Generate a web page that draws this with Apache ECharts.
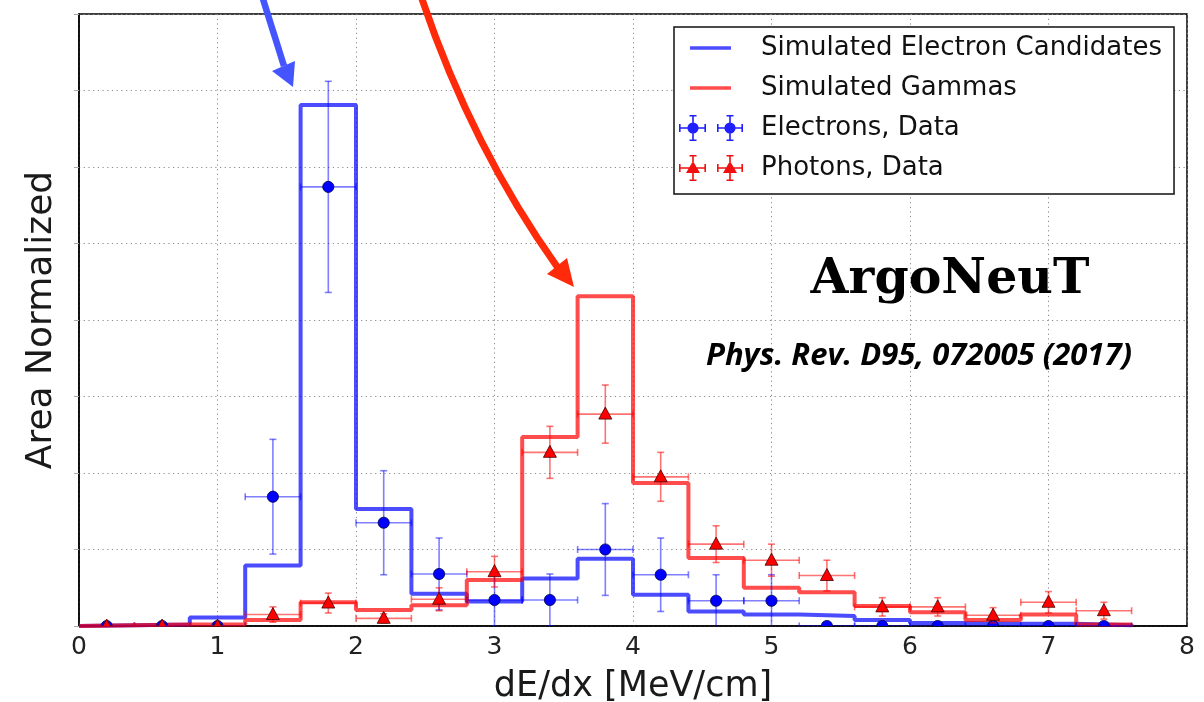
<!DOCTYPE html>
<html><head><meta charset="utf-8">
<script src="https://cdn.jsdelivr.net/npm/echarts@6/dist/echarts.min.js"></script>
<style>html,body{margin:0;padding:0;background:#fff}#c{width:1204px;height:702px}</style>
</head><body><div id="c"></div>
<script>
// ---- data ----
const binEdges = [0.0, 0.4, 0.8, 1.2, 1.6, 2.0, 2.4, 2.8, 3.2, 3.6, 4.0, 4.4, 4.8, 5.2, 5.6, 6.0, 6.4, 6.8, 7.2, 7.6];
const simElectron = [0.01, 0.02, 0.11, 0.79, 6.81, 1.53, 0.42, 0.32, 0.62, 0.88, 0.41, 0.19, 0.15, 0.13, 0.08, 0.04, 0.03, 0.03, 0.01];
const simGamma    = [0.01, 0.02, 0.02, 0.08, 0.31, 0.21, 0.27, 0.60, 2.47, 4.31, 1.87, 0.89, 0.50, 0.44, 0.26, 0.18, 0.08, 0.15, 0.02];
const dataX       = [0.2, 0.6, 1.0, 1.4, 1.8, 2.2, 2.6, 3.0, 3.4, 3.8, 4.2, 4.6, 5.0, 5.4, 5.8, 6.2, 6.6, 7.0, 7.4];
const xErr        = [0.2, 0.2, 0.2, 0.2, 0.2, 0.2, 0.2, 0.2, 0.2, 0.2, 0.2, 0.2, 0.2, 0.2, 0.2, 0.2, 0.2, 0.2, 0.2];
const electronData = [0, 0, 0, 1.69, 5.74, 1.35, 0.68, 0.34, 0.34, 1.00, 0.67, 0.33, 0.33, 0, 0, 0, 0, 0, 0];
const electronErr  = [0, 0, 0, 0.75, 1.38, 0.68, 0.47, 0.34, 0.34, 0.60, 0.48, 0.34, 0.34, 0, 0, 0, 0, 0, 0];
const photonData   = [0, 0, 0, 0.15, 0.30, 0.10, 0.35, 0.71, 2.27, 2.77, 1.95, 1.07, 0.86, 0.66, 0.25, 0.25, 0.14, 0.31, 0.20];
const photonErr    = [0, 0, 0, 0.10, 0.13, 0.06, 0.15, 0.20, 0.34, 0.38, 0.32, 0.24, 0.21, 0.20, 0.12, 0.12, 0.10, 0.14, 0.11];
const xTicks = [0, 1, 2, 3, 4, 5, 6, 7, 8];
const seriesNames = ['Simulated Electron Candidates', 'Simulated Gammas', 'Electrons, Data', 'Photons, Data'];

// ---- helpers ----
function histPoints(vals) {
  const pts = [[binEdges[0], 0]];
  for (let i = 0; i < vals.length; i++) pts.push([binEdges[i], vals[i]]);
  pts.push([binEdges[binEdges.length - 1], vals[vals.length - 1]]);
  pts.push([binEdges[binEdges.length - 1], 0]);
  return pts;
}
function errPoints(ys, yerr) {
  return dataX.map((x, i) => [x, ys[i], xErr[i], yerr[i]]);
}
function makeRender(markerFill, markerStroke, barColor, shape) {
  return function (params, api) {
    const x = api.value(0), y = api.value(1), xe = api.value(2), ye = api.value(3);
    const c = api.coord([x, y]);
    const l = api.coord([x - xe, y]), r = api.coord([x + xe, y]);
    const t = api.coord([x, y + ye]), b = api.coord([x, y - ye]);
    const cap = 3.5;
    const ls = { stroke: barColor, lineWidth: 1.6, fill: null };
    const ch = [
      { type: 'line', shape: { x1: l[0], y1: l[1], x2: r[0], y2: r[1] }, style: ls },
      { type: 'line', shape: { x1: l[0], y1: l[1] - cap, x2: l[0], y2: l[1] + cap }, style: ls },
      { type: 'line', shape: { x1: r[0], y1: r[1] - cap, x2: r[0], y2: r[1] + cap }, style: ls }
    ];
    if (ye > 0) {
      ch.push({ type: 'line', shape: { x1: t[0], y1: t[1], x2: b[0], y2: b[1] }, style: ls });
      ch.push({ type: 'line', shape: { x1: t[0] - cap, y1: t[1], x2: t[0] + cap, y2: t[1] }, style: ls });
      ch.push({ type: 'line', shape: { x1: b[0] - cap, y1: b[1], x2: b[0] + cap, y2: b[1] }, style: ls });
    }
    if (shape === 'circle') {
      ch.push({ type: 'circle', shape: { cx: c[0], cy: c[1], r: 5.6 }, style: { fill: markerFill, stroke: markerStroke, lineWidth: 0.8 } });
    } else {
      ch.push({ type: 'polygon', shape: { points: [[c[0], c[1] - 7], [c[0] + 6.5, c[1] + 5], [c[0] - 6.5, c[1] + 5]] },
        style: { fill: markerFill, stroke: markerStroke, lineWidth: 0.8 } });
    }
    return { type: 'group', children: ch };
  };
}
// legend icons (box 77 x 30)
function rect(x1, y1, x2, y2) { return `M${x1},${y1}H${x2}V${y2}H${x1}Z`; }
function circ(cx, cy, r) { return `M${cx - r},${cy}A${r},${r} 0 1,1 ${cx + r},${cy}A${r},${r} 0 1,1 ${cx - r},${cy}Z`; }
function tri(cx, cy) { return `M${cx},${cy - 7}L${cx + 7},${cy + 5}L${cx - 7},${cy + 5}Z`; }
const boxPts = 'M0,0L0,0M77,30L77,30';
const lineIcon = 'path://' + boxPts + rect(11, 13.2, 52, 16.8);
function errIcon(kind) {
  let p = boxPts;
  [[14, 0, 27], [51, 38, 64]].forEach(([cx, a, bb]) => {
    p += rect(a, 14.2, bb, 15.8) + rect(a, 11, a + 1.6, 19) + rect(bb - 1.6, 11, bb, 19);
    p += rect(cx - 0.8, 2, cx + 0.8, 28) + rect(cx - 3.5, 2, cx + 3.5, 3.6) + rect(cx - 3.5, 26.4, cx + 3.5, 28);
    p += kind === 'circle' ? circ(cx, 15, 5.6) : tri(cx, 15);
  });
  return 'path://' + p;
}

const chart = echarts.init(document.getElementById('c'), null, { renderer: 'canvas' });
const FONT = 'DejaVu Sans';
const gridLine = { show: true, lineStyle: { type: [1.2, 3.5], color: '#8a8a8a', width: 1 } };
chart.setOption({
  animation: false,
  backgroundColor: '#fff',
  grid: { left: 79, right: 17, top: 14, bottom: 76, show: true, borderColor: '#000', borderWidth: 1.5,
          backgroundColor: 'transparent', containLabel: false, outerBoundsMode: 'none' },
  xAxis: {
    type: 'value', min: xTicks[0], max: xTicks[xTicks.length - 1], interval: 1,
    name: 'dE/dx [MeV/cm]', nameLocation: 'middle', nameGap: 43,
    nameTextStyle: { fontSize: 35, fontFamily: FONT, color: '#1a1a1a' },
    axisLine: { show: true, lineStyle: { color: '#000', width: 1.5 } },
    axisTick: { show: false },
    axisLabel: { fontSize: 25, fontFamily: FONT, color: '#222', margin: 9 },
    splitLine: gridLine
  },
  yAxis: {
    type: 'value', min: 0, max: 8, interval: 1,
    name: 'Area Normalized', nameLocation: 'middle', nameGap: 19,
    nameTextStyle: { fontSize: 36, fontFamily: FONT, color: '#1a1a1a' },
    axisLine: { show: true, lineStyle: { color: '#000', width: 1.5 } },
    axisTick: { show: true, inside: false, length: 5, lineStyle: { color: '#aaa' } },
    axisLabel: { show: false },
    splitLine: gridLine
  },
  legend: {
    orient: 'vertical', left: 674, top: 27, padding: [6, 12, 11, 5],
    itemWidth: 77, itemHeight: 30, itemGap: 10, selectedMode: false,
    backgroundColor: '#fff', borderColor: '#111', borderWidth: 1.5,
    textStyle: { fontSize: 26, fontFamily: FONT, color: '#111' },
    itemStyle: { borderWidth: 0 },
    data: [
      { name: seriesNames[0], icon: lineIcon, itemStyle: { color: '#4d4dff', borderWidth: 0 } },
      { name: seriesNames[1], icon: lineIcon, itemStyle: { color: '#ff4d4d', borderWidth: 0 } },
      { name: seriesNames[2], icon: errIcon('circle'), itemStyle: { color: '#1f1fff', borderWidth: 0 } },
      { name: seriesNames[3], icon: errIcon('triangle'), itemStyle: { color: '#f01010', borderWidth: 0 } }
    ]
  },
  series: [
    { name: seriesNames[0], type: 'line', step: 'end', symbol: 'none', data: histPoints(simElectron),
      color: '#0000ff', lineStyle: { color: '#0000ff', width: 4, opacity: 0.7 }, z: 2 },
    { name: seriesNames[1], type: 'line', step: 'end', symbol: 'none', data: histPoints(simGamma),
      color: '#ff0000', lineStyle: { color: '#ff0000', width: 4, opacity: 0.7 }, z: 3 },
    { name: seriesNames[2], type: 'custom', clip: true, data: errPoints(electronData, electronErr),
      color: '#0000ff', renderItem: makeRender('#0000ff', '#000044', 'rgba(0,0,255,0.5)', 'circle'), z: 4 },
    { name: seriesNames[3], type: 'custom', clip: true, data: errPoints(photonData, photonErr),
      color: '#ff0000', renderItem: makeRender('#ff0000', '#440000', 'rgba(255,0,0,0.55)', 'triangle'), z: 5 }
  ],
  graphic: [
    { type: 'line', shape: { x1: 262, y1: -4, x2: 284, y2: 66 }, style: { stroke: '#4455ff', lineWidth: 6.5 }, z: 10 },
    { type: 'polygon', shape: { points: [[272, 71], [295, 61], [293, 87]] }, style: { fill: '#4455ff' }, z: 10 },
    { type: 'bezierCurve', shape: { x1: 421, y1: -4, cpx1: 471, cpy1: 146, x2: 558, y2: 268 }, style: { stroke: '#ff2a0a', lineWidth: 7, fill: null }, z: 10 },
    { type: 'polygon', shape: { points: [[547, 274], [567, 258], [574, 287]] }, style: { fill: '#ff2a0a' }, z: 10 },
    { type: 'text', x: 950, y: 280, z: 10,
      style: { text: 'ArgoNeuT', font: 'bold 49px "DejaVu Serif"', fill: '#000', align: 'center', verticalAlign: 'middle', textAlign: 'center', textVerticalAlign: 'middle' } },
    { type: 'text', x: 919, y: 356, z: 10,
      style: { text: 'Phys. Rev. D95, 072005 (2017)', font: 'italic bold 31px "Open Sans"', fill: '#000', align: 'center', verticalAlign: 'middle', textAlign: 'center', textVerticalAlign: 'middle' } }
  ]
});
</script></body></html>
